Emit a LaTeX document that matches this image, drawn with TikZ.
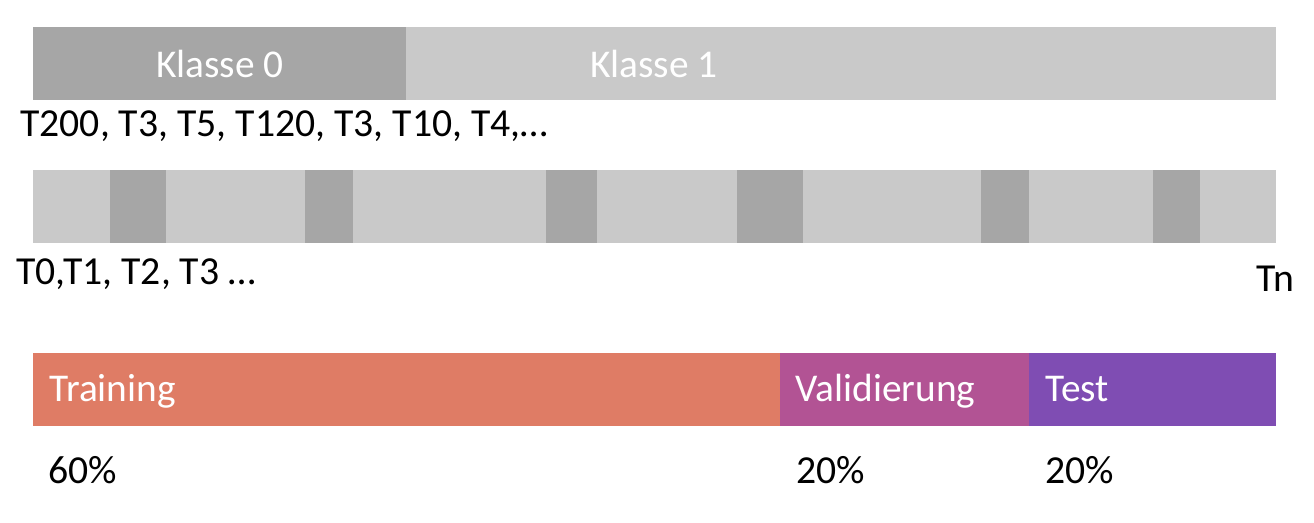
\documentclass[tikz,border=0pt]{standalone}
\usepackage{fontspec}
\setmainfont{Carlito}
\definecolor{dunkel}{HTML}{A6A6A6}
\definecolor{hell}{HTML}{C9C9C9}
\definecolor{train}{HTML}{DF7C65}
\definecolor{valid}{HTML}{B25394}
\definecolor{test}{HTML}{7F4DB3}
\tikzset{
  weiss/.style={text=white, font=\fontsize{22.4}{26}\selectfont, inner sep=0pt},
  schwarz/.style={text=black, font=\fontsize{22.6}{26}\selectfont, inner sep=0pt, anchor=base west},
}
\begin{document}
\begin{tikzpicture}[x=0.02cm, y=-0.02cm]
        \useasboundingbox (0,0) rectangle (1314,522);
        % Klassen
        \fill[dunkel] (33,27) rectangle (406,100);
        \fill[hell] (406,27) rectangle (1276,100);
        \node[weiss] (k0) at (220,64) {Klasse 0};
        \node[weiss] (k1) at (654,64) {Klasse 1};
        \node[schwarz] (folge) at (20,136) {T200, T3, T5, T120, T3, T10, T4,…};
        % Zeitreihe
        \fill[hell] (33,170) rectangle (1276,243);
        \foreach \a/\b in {110/166, 305/353, 546/597, 737/803, 981/1029, 1153/1200}
            \fill[dunkel] (\a,170) rectangle (\b,243);
        \node[schwarz] (t0) at (16,284) {T0,T1, T2, T3 …};
        \node[schwarz] (tn) at (1256,291) {Tn};
        % Aufteilung
        \fill[train] (33,353) rectangle (780,426);
        \fill[valid] (780,353) rectangle (1029,426);
        \fill[test] (1029,353) rectangle (1276,426);
        \node[weiss, anchor=base west] (tr) at (49,401) {Training};
        \node[weiss, anchor=base west] (va) at (795,401) {Validierung};
        \node[weiss, anchor=base west] (te) at (1045,401) {Test};
        \node[schwarz] (p1) at (48,483) {60\%};
        \node[schwarz] (p2) at (796,483) {20\%};
        \node[schwarz] (p3) at (1045,483) {20\%};
\end{tikzpicture}
\end{document}
